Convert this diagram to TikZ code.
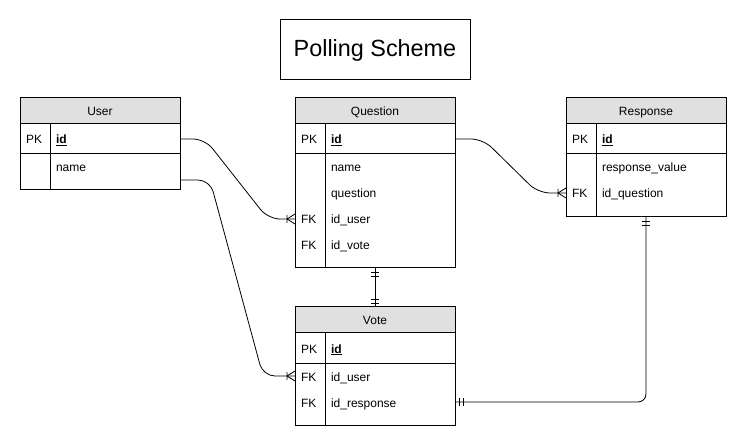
\documentclass[tikz,border=0pt]{standalone}
\usepackage{fontspec}
\setmainfont{Liberation Sans}
\usetikzlibrary{positioning,decorations.markings}
\definecolor{hdrgray}{HTML}{E0E0E0}

\begin{document}
\begin{tikzpicture}[x=1pt, y=-1pt,
  every node/.style={outer sep=0pt},
  title/.style={draw, line width=1pt, minimum width=190pt, minimum height=60pt,
                text height=17pt, text depth=3pt, font=\fontsize{23.4}{27}\selectfont},
  hdr/.style={draw, fill=hdrgray, line width=1pt, minimum width=160pt,
              minimum height=26pt, inner sep=0pt, text height=10pt, text depth=0pt,
              font=\fontsize{12}{14}\selectfont},
  pkrow/.style={draw, line width=1pt, minimum width=160pt, minimum height=30pt, inner sep=0pt},
  body/.style={draw, line width=1pt, minimum width=160pt, inner sep=0pt},
  fld/.style={anchor=west, inner sep=0pt, text height=10pt, text depth=0pt,
              font=\fontsize{12}{14}\selectfont},
  pkfld/.style={fld, font=\fontsize{12}{14}\selectfont\bfseries},
  sep/.style={line width=1pt},
  conn/.style={line width=0.8pt, rounded corners=12pt},
  manyend/.style={postaction=decorate, decoration={markings,
    mark=at position -8pt with {\draw[line width=0.8pt] (0,-4pt) -- (0,4pt)
      (0,0) -- (8pt,-5pt) (0,0) -- (8pt,5pt);}}},
  oneboth/.style={postaction=decorate, decoration={markings,
    mark=at position 4pt with {\draw[line width=0.8pt] (0,-4pt) -- (0,4pt);},
    mark=at position 8pt with {\draw[line width=0.8pt] (0,-4pt) -- (0,4pt);},
    mark=at position -4pt with {\draw[line width=0.8pt] (0,-4pt) -- (0,4pt);},
    mark=at position -8pt with {\draw[line width=0.8pt] (0,-4pt) -- (0,4pt);}}},
]
\useasboundingbox (0,0) rectangle (747,446);

% ---- Title ----
\node[title] (title) at (375,50) {Polling Scheme};

% ---- User ----
\node[hdr] (user) at (100,111) {User};
\node[pkrow, below=0pt of user] (user-pk) {};
\node[body, below=0pt of user-pk, minimum height=36pt] (user-body) {};
\draw[sep] ([xshift=30pt]user-pk.north west) -- ([xshift=30pt]user-body.south west);
\node[fld] (u-pkkey) at ([xshift=6pt]user-pk.west) {PK};
\node[pkfld] (u-id) at ([xshift=36pt]user-pk.west) {\underline{id}};
\node[fld] (u-name) at ([xshift=36pt,yshift=-13pt]user-body.north west) {name};

% ---- Question ----
\node[hdr] (question) at (375,111) {Question};
\node[pkrow, below=0pt of question] (question-pk) {};
\node[body, below=0pt of question-pk, minimum height=114pt] (question-body) {};
\draw[sep] ([xshift=30pt]question-pk.north west) -- ([xshift=30pt]question-body.south west);
\node[fld] (q-pkkey) at ([xshift=6pt]question-pk.west) {PK};
\node[pkfld] (q-id) at ([xshift=36pt]question-pk.west) {\underline{id}};
\node[fld] (q-name) at ([xshift=36pt,yshift=-13pt]question-body.north west) {name};
\node[fld] (q-question) at ([xshift=36pt,yshift=-39pt]question-body.north west) {question};
\node[fld] (q-fk1) at ([xshift=6pt,yshift=-65pt]question-body.north west) {FK};
\node[fld] (q-iduser) at ([xshift=36pt,yshift=-65pt]question-body.north west) {id\_user};
\node[fld] (q-fk2) at ([xshift=6pt,yshift=-91pt]question-body.north west) {FK};
\node[fld] (q-idvote) at ([xshift=36pt,yshift=-91pt]question-body.north west) {id\_vote};

% ---- Response ----
\node[hdr] (response) at (646,111) {Response};
\node[pkrow, below=0pt of response] (response-pk) {};
\node[body, below=0pt of response-pk, minimum height=63pt] (response-body) {};
\draw[sep] ([xshift=30pt]response-pk.north west) -- ([xshift=30pt]response-body.south west);
\node[fld] (r-pkkey) at ([xshift=6pt]response-pk.west) {PK};
\node[pkfld] (r-id) at ([xshift=36pt]response-pk.west) {\underline{id}};
\node[fld] (r-value) at ([xshift=36pt,yshift=-13pt]response-body.north west) {response\_value};
\node[fld] (r-fk1) at ([xshift=6pt,yshift=-39pt]response-body.north west) {FK};
\node[fld] (r-idquestion) at ([xshift=36pt,yshift=-39pt]response-body.north west) {id\_question};

% ---- Vote ----
\node[hdr] (vote) at (375,320) {Vote};
\node[pkrow, below=0pt of vote] (vote-pk) {};
\node[body, below=0pt of vote-pk, minimum height=62pt] (vote-body) {};
\draw[sep] ([xshift=30pt]vote-pk.north west) -- ([xshift=30pt]vote-body.south west);
\node[fld] (v-pkkey) at ([xshift=6pt]vote-pk.west) {PK};
\node[pkfld] (v-id) at ([xshift=36pt]vote-pk.west) {\underline{id}};
\node[fld] (v-fk1) at ([xshift=6pt,yshift=-13pt]vote-body.north west) {FK};
\node[fld] (v-iduser) at ([xshift=36pt,yshift=-13pt]vote-body.north west) {id\_user};
\node[fld] (v-fk2) at ([xshift=6pt,yshift=-39pt]vote-body.north west) {FK};
\node[fld] (v-idresponse) at ([xshift=36pt,yshift=-39pt]vote-body.north west) {id\_response};

% ---- Relations ----
\coordinate (q-user-in) at (question.west |- q-iduser);
\coordinate (v-user-in) at (vote.west |- v-iduser);
\coordinate (r-question-in) at (response.west |- r-idquestion);
\coordinate (v-response-in) at (vote.east |- v-idresponse);

\draw[conn, manyend] (user-pk.east) -- ++(25,0) -- ([xshift=-27pt]q-user-in) -- (q-user-in);
\draw[conn, manyend] ([yshift=-8pt]user-body.east) -- ++(30,0) -- ([xshift=-32pt]v-user-in) -- (v-user-in);
\draw[conn, manyend] (question-pk.east) -- ++(28,0) -- ([xshift=-28pt]r-question-in) -- (r-question-in);
\draw[conn, oneboth] (question-body.south) -- (vote.north);
\draw[conn, oneboth, rounded corners=8pt] (response-body.south) |- (v-response-in);

\end{tikzpicture}
\end{document}
